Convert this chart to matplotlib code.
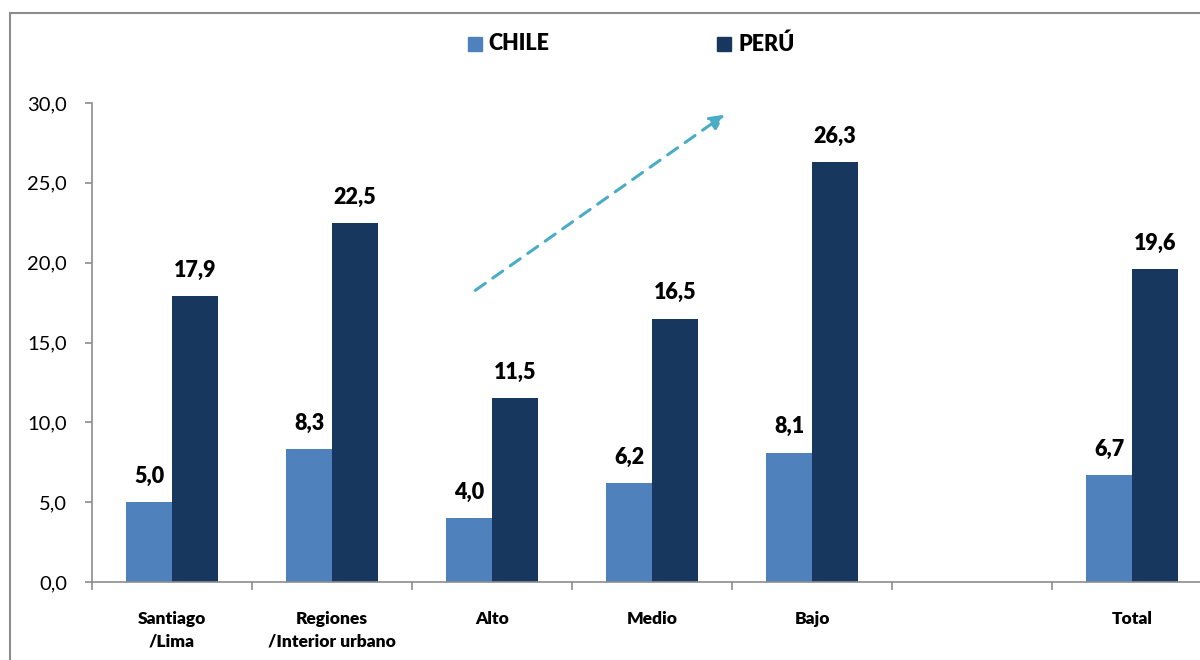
import matplotlib
matplotlib.use("Agg")
import matplotlib.pyplot as plt
import numpy as np
from matplotlib.patches import Rectangle

categories = ["Santiago\n/Lima", "Regiones\n/Interior urbano", "Alto", "Medio", "Bajo", "", "Total"]
chile = [5.0, 8.3, 4.0, 6.2, 8.1, None, 6.7]
peru = [17.9, 22.5, 11.5, 16.5, 26.3, None, 19.6]
yticks = [0, 5, 10, 15, 20, 25, 30]

plt.rcParams['font.family'] = ['Lato', 'DejaVu Sans']

W, H = 1200, 660
fig = plt.figure(figsize=(12, 6.6), dpi=100)
# figure frame (partially outside)
fig.patches.append(Rectangle((10 / W, -0.1), 1.2, (660 - 13) / H + 0.1, transform=fig.transFigure,
                             fill=False, edgecolor='#8c8c8c', linewidth=1.5))

left, right = 92, 1212
bottom, top = 582, 103
ax = fig.add_axes([left / W, 1 - bottom / H, (right - left) / W, (bottom - top) / H])

x = np.arange(len(categories))
bw = 0.287
c_col = '#4F81BD'
p_col = '#17375E'
for i in range(len(categories)):
    if chile[i] is not None:
        ax.bar(x[i] - bw / 2, chile[i], bw, color=c_col)
        ax.annotate(f"{chile[i]:.1f}".replace('.', ','), (x[i] - bw / 2, chile[i]),
                    xytext=(0, 11), textcoords='offset points', ha='center', va='bottom',
                    fontsize=15.5, fontweight='heavy')
    if peru[i] is not None:
        ax.bar(x[i] + bw / 2, peru[i], bw, color=p_col)
        ax.annotate(f"{peru[i]:.1f}".replace('.', ','), (x[i] + bw / 2, peru[i]),
                    xytext=(0, 11), textcoords='offset points', ha='center', va='bottom',
                    fontsize=15.5, fontweight='heavy')

ax.set_xlim(-0.5, len(categories) - 0.5)
ax.set_ylim(0, 30)
ax.set_yticks(yticks)
ax.set_yticklabels([f"{v:.1f}".replace('.', ',') for v in yticks], fontsize=14.5)
ax.set_xticks(x)
ax.set_xticklabels(categories, fontsize=12.5, fontweight='heavy', linespacing=1.45)
ax.tick_params(axis='x', length=0, pad=21)
ax.set_xticks(np.arange(len(categories) + 1) - 0.5, minor=True)
ax.tick_params(axis='x', which='minor', length=6, color='#8c8c8c', width=1.2)
ax.tick_params(axis='y', length=5, color='#8c8c8c', width=1.2, pad=13)
for s in ['top', 'right']:
    ax.spines[s].set_visible(False)
for s in ['left', 'bottom']:
    ax.spines[s].set_color('#8c8c8c')
    ax.spines[s].set_linewidth(1.2)

# dashed trend arrow
ax.annotate('', xy=((727 - left) / (right - left), (bottom - 113) / (bottom - top)),
            xytext=((473 - left) / (right - left), (bottom - 292) / (bottom - top)),
            xycoords='axes fraction', textcoords='axes fraction',
            arrowprops=dict(arrowstyle='-|>', linestyle=(0, (4, 3)), color='#4BACC6',
                            lw=2.2, mutation_scale=22))

# legend
fig.patches.append(Rectangle((468 / W, 1 - 51 / H), 14 / W, 14 / H, transform=fig.transFigure,
                             color=c_col))
fig.text(488 / W, 1 - 44 / H, "CHILE", fontsize=15.5, fontweight='heavy', va='center')
fig.patches.append(Rectangle((717 / W, 1 - 51 / H), 14 / W, 14 / H, transform=fig.transFigure,
                             color=p_col))
fig.text(738 / W, 1 - 44 / H, "PERÚ", fontsize=15.5, fontweight='heavy', va='center')

fig.savefig("out.png", dpi=100)
